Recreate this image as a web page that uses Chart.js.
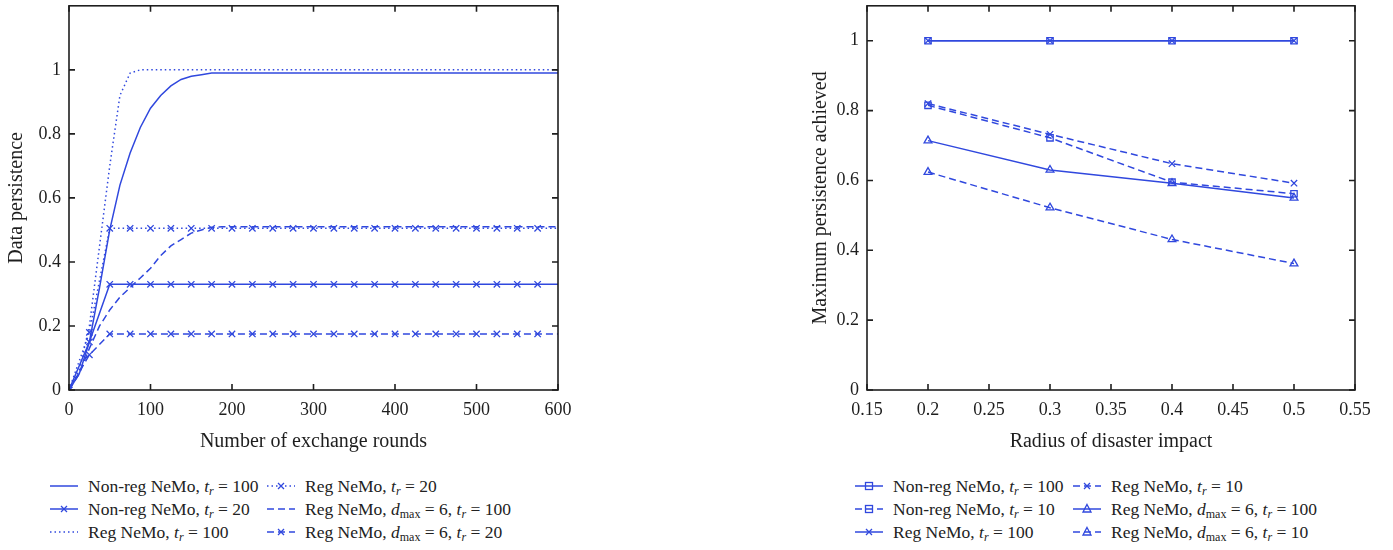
<!DOCTYPE html>
<html>
<head>
<meta charset="utf-8">
<script src="https://cdn.jsdelivr.net/npm/chart.js@4.4.1/dist/chart.umd.min.js"></script>
<style>
  body { margin: 0; background: #fff; }
  #wrap { position: relative; width: 1393px; height: 550px; font-family: 'Liberation Serif', 'DejaVu Serif', serif; color: #222; }
  canvas { position: absolute; top: 0; }
  .item { position: absolute; height: 22px; display: flex; align-items: center; font-size: 17.5px; white-space: nowrap; }
  .item svg { margin-right: 10px; flex: none; }
  sub { font-size: 12px; vertical-align: -3px; line-height: 0; }
</style>
</head>
<body>
<div id="wrap">
  <canvas id="left" width="600" height="460" style="left:0"></canvas>
  <canvas id="right" width="600" height="460" style="left:790px"></canvas>
</div>
<script>
// ---- left chart: data persistence vs exchange rounds ----
const roundsCurve = [0, 12.5, 25, 37.5, 50, 62.5, 75, 87.5, 100, 112.5, 125, 137.5, 150, 162.5, 175, 187.5, 200, 600];
const nonReg100 = [0, 0.05, 0.15, 0.32, 0.5, 0.64, 0.74, 0.82, 0.88, 0.92, 0.95, 0.97, 0.98, 0.985, 0.99, 0.99, 0.99, 0.99];
const reg100 = [0, 0.06, 0.2, 0.45, 0.7, 0.92, 0.99, 1, 1, 1, 1, 1, 1, 1, 1, 1, 1, 1];
const regD100 = [0, 0.05, 0.13, 0.2, 0.25, 0.29, 0.32, 0.35, 0.38, 0.42, 0.45, 0.47, 0.49, 0.5, 0.508, 0.51, 0.51, 0.51];

const roundsMarked = [0, 25, 50, 75, 100, 125, 150, 175, 200, 225, 250, 275, 300, 325, 350, 375, 400, 425, 450, 475, 500, 525, 550, 575, 600];
const nonReg20 = [0, 0.15, 0.33, 0.33, 0.33, 0.33, 0.33, 0.33, 0.33, 0.33, 0.33, 0.33, 0.33, 0.33, 0.33, 0.33, 0.33, 0.33, 0.33, 0.33, 0.33, 0.33, 0.33, 0.33, 0.33];
const reg20 = [0, 0.18, 0.505, 0.505, 0.505, 0.505, 0.505, 0.505, 0.505, 0.505, 0.505, 0.505, 0.505, 0.505, 0.505, 0.505, 0.505, 0.505, 0.505, 0.505, 0.505, 0.505, 0.505, 0.505, 0.505];
const regD20 = [0, 0.11, 0.175, 0.175, 0.175, 0.175, 0.175, 0.175, 0.175, 0.175, 0.175, 0.175, 0.175, 0.175, 0.175, 0.175, 0.175, 0.175, 0.175, 0.175, 0.175, 0.175, 0.175, 0.175, 0.175];

const leftNames = [
    'Non-reg NeMo, <i>t</i><sub><i>r</i></sub> = 100',
    'Non-reg NeMo, <i>t</i><sub><i>r</i></sub> = 20',
    'Reg NeMo, <i>t</i><sub><i>r</i></sub> = 100',
    'Reg NeMo, <i>t</i><sub><i>r</i></sub> = 20',
    'Reg NeMo, <i>d</i><sub>max</sub> = 6, <i>t</i><sub><i>r</i></sub> = 100',
    'Reg NeMo, <i>d</i><sub>max</sub> = 6, <i>t</i><sub><i>r</i></sub> = 20'
];

// ---- right chart: max persistence vs disaster radius ----
const radius = [0.2, 0.3, 0.4, 0.5];
const rNonReg100 = [1, 1, 1, 1];
const rNonReg10 = [0.815, 0.722, 0.595, 0.562];
const rReg100 = [1, 1, 1, 1];
const rReg10 = [0.82, 0.732, 0.648, 0.592];
const rRegD100 = [0.714, 0.63, 0.592, 0.55];
const rRegD10 = [0.624, 0.522, 0.431, 0.362];

const rightNames = [
    'Non-reg NeMo, <i>t</i><sub><i>r</i></sub> = 100',
    'Non-reg NeMo, <i>t</i><sub><i>r</i></sub> = 10',
    'Reg NeMo, <i>t</i><sub><i>r</i></sub> = 100',
    'Reg NeMo, <i>t</i><sub><i>r</i></sub> = 10',
    'Reg NeMo, <i>d</i><sub>max</sub> = 6, <i>t</i><sub><i>r</i></sub> = 100',
    'Reg NeMo, <i>d</i><sub>max</sub> = 6, <i>t</i><sub><i>r</i></sub> = 10'
];

const BLUE = 'rgb(48, 72, 222)';
const INK = '#1e1e1e';
const FONT = "'Liberation Serif', 'DejaVu Serif', serif";
const SOLID = [];
const DASH = [7, 4];
const DOT = [1.5, 3];

function toPoints(xs, ys) {
    return xs.map((x, i) => ({ x, y: ys[i] }));
}

function makeSeries(label, xs, ys, dash, marker, hideLast) {
    return {
        label,
        data: toPoints(xs, ys),
        borderColor: BLUE,
        borderWidth: 1.5,
        borderDash: dash,
        pointStyle: marker || 'circle',
        pointRadius: marker ? xs.map((x, i) => (hideLast && i === xs.length - 1 ? 0 : 4.5)) : 0,
        pointBorderColor: BLUE,
        pointBackgroundColor: 'rgba(0,0,0,0)',
        pointBorderWidth: 1.3,
        fill: false,
        tension: 0
    };
}

// box round the plot with inward ticks on all four sides
const frameTicks = {
    id: 'frameTicks',
    afterDatasetsDraw(chart) {
        const { ctx, chartArea: a, scales: { x, y } } = chart;
        ctx.save();
        ctx.strokeStyle = INK;
        ctx.lineWidth = 1.6;
        ctx.strokeRect(a.left, a.top, a.right - a.left, a.bottom - a.top);
        ctx.beginPath();
        x.ticks.forEach((t) => {
            const px = x.getPixelForValue(t.value);
            ctx.moveTo(px, a.bottom); ctx.lineTo(px, a.bottom - 6);
            ctx.moveTo(px, a.top); ctx.lineTo(px, a.top + 6);
        });
        y.ticks.forEach((t) => {
            const py = y.getPixelForValue(t.value);
            ctx.moveTo(a.left, py); ctx.lineTo(a.left + 6, py);
            ctx.moveTo(a.right, py); ctx.lineTo(a.right - 6, py);
        });
        ctx.stroke();
        ctx.restore();
    }
};

function axisOptions(cfg) {
    const tickFont = { family: FONT, size: 18 };
    const titleFont = { family: FONT, size: 20 };
    return {
        x: {
            type: 'linear',
            min: cfg.xMin, max: cfg.xMax,
            grid: { display: false, drawTicks: false },
            border: { display: false },
            ticks: { stepSize: cfg.xStep, color: INK, font: tickFont, padding: 9, maxRotation: 0,
                callback: (v) => String(+v.toFixed(2)) },
            title: { display: true, text: cfg.xTitle, color: INK, font: titleFont, padding: { top: 0, bottom: 6 } },
            afterFit: (scale) => {
                scale.height = 70;
                scale.paddingLeft = 0;
                scale.paddingRight = 0;
            }
        },
        y: {
            min: 0, max: cfg.yMax,
            grid: { display: false, drawTicks: false },
            border: { display: false },
            ticks: { stepSize: 0.2, color: INK, font: tickFont, padding: 8,
                callback: (v) => String(+v.toFixed(2)) },
            afterBuildTicks: (scale) => { scale.ticks = scale.ticks.filter((t) => t.value <= 1.0001); },
            title: { display: true, text: cfg.yTitle, color: INK, font: titleFont, padding: { top: cfg.yTitlePad, bottom: 0 } },
            afterFit: (scale) => {
                scale.width = cfg.yWidth;
                scale.paddingTop = 0;
                scale.paddingBottom = 0;
            }
        }
    };
}

function renderLineChart(canvasId, datasets, cfg) {
    return new Chart(document.getElementById(canvasId), {
        type: 'line',
        data: { datasets },
        options: {
            responsive: false,
            animation: false,
            devicePixelRatio: 1,
            layout: { padding: { top: 5, right: cfg.padRight, left: 0, bottom: 0 } },
            plugins: { legend: { display: false }, tooltip: { enabled: false } },
            scales: axisOptions(cfg)
        },
        plugins: [frameTicks]
    });
}

function swatchSvg(ds) {
    const dash = ds.borderDash.length ? ` stroke-dasharray="${ds.borderDash.join(' ')}"` : '';
    let mark = '';
    const hasMarker = Array.isArray(ds.pointRadius) && ds.pointRadius.some((r) => r > 0);
    if (hasMarker) {
        const s = 'fill="none" stroke="' + BLUE + '" stroke-width="1.3"';
        if (ds.pointStyle === 'crossRot') mark = `<path d="M11 8 L17 14 M17 8 L11 14" ${s}/>`;
        if (ds.pointStyle === 'rect') mark = `<rect x="10.5" y="7.5" width="7" height="7" ${s}/>`;
        if (ds.pointStyle === 'triangle') mark = `<path d="M14 6.5 L18 14 L10 14 Z" ${s}/>`;
    }
    return `<svg width="28" height="22"><line x1="0" y1="11" x2="28" y2="11" stroke="${BLUE}" stroke-width="1.5"${dash}/>${mark}</svg>`;
}

function renderLegend(chart, names, columns, rowTop, rowGap) {
    const wrap = document.getElementById('wrap');
    chart.data.datasets.forEach((ds, i) => {
        const col = Math.floor(i / 3);
        const row = i % 3;
        const el = document.createElement('div');
        el.className = 'item';
        el.style.left = columns[col] + 'px';
        el.style.top = (rowTop + row * rowGap) + 'px';
        el.innerHTML = swatchSvg(ds) + '<span>' + names[i] + '</span>';
        wrap.appendChild(el);
    });
}

const leftSets = [
    makeSeries('nonReg100', roundsCurve, nonReg100, SOLID, null),
    makeSeries('nonReg20', roundsMarked, nonReg20, SOLID, 'crossRot', true),
    makeSeries('reg100', roundsCurve, reg100, DOT, null),
    makeSeries('reg20', roundsMarked, reg20, DOT, 'crossRot', true),
    makeSeries('regD100', roundsCurve, regD100, DASH, null),
    makeSeries('regD20', roundsMarked, regD20, DASH, 'crossRot', true)
];

const rightSets = [
    makeSeries('rNonReg100', radius, rNonReg100, SOLID, 'rect'),
    makeSeries('rNonReg10', radius, rNonReg10, DASH, 'rect'),
    makeSeries('rReg100', radius, rReg100, SOLID, 'crossRot'),
    makeSeries('rReg10', radius, rReg10, DASH, 'crossRot'),
    makeSeries('rRegD100', radius, rRegD100, SOLID, 'triangle'),
    makeSeries('rRegD10', radius, rRegD10, DASH, 'triangle')
];

const leftChart = renderLineChart('left', leftSets, {
    xMin: 0, xMax: 600, xStep: 100, yMax: 1.2, yWidth: 69, padRight: 42, yTitlePad: 5,
    xTitle: 'Number of exchange rounds', yTitle: 'Data persistence'
});

const rightChart = renderLineChart('right', rightSets, {
    xMin: 0.15, xMax: 0.55, xStep: 0.05, yMax: 1.1, yWidth: 77, padRight: 35, yTitlePad: 19,
    xTitle: 'Radius of disaster impact', yTitle: 'Maximum persistence achieved'
});

renderLegend(leftChart, leftNames, [50, 267], 475, 23);
renderLegend(rightChart, rightNames, [855, 1073], 475, 23);
</script>
</body>
</html>
